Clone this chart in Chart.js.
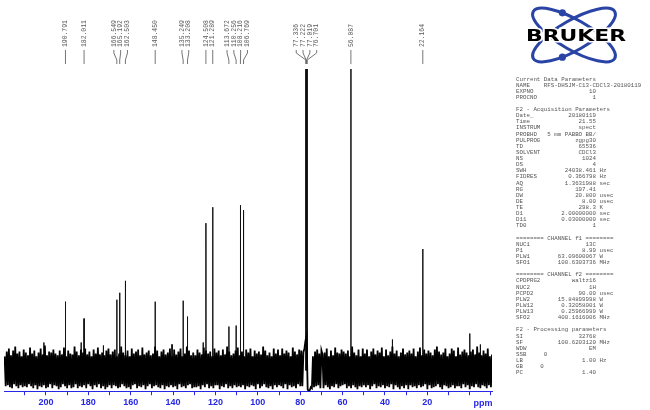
<!DOCTYPE html>
<html>
<head>
<meta charset="utf-8">
<title>13C NMR</title>
<script src="https://cdn.jsdelivr.net/npm/chart.js"></script>
<style>
  html, body { margin: 0; padding: 0; background: #fff; }
  #wrap { width: 650px; height: 410px; position: relative; }
</style>
</head>
<body>
<div id="wrap"><canvas id="nmr_chart" width="650" height="410"></canvas></div>
<script>
// labelled peaks (ppm) and their heights (baseline = 0)
const peakPpm = [190.791, 182.011, 166.549, 165.192, 162.503, 148.450, 135.249, 133.208,
                 124.508, 121.289, 113.672, 110.256, 108.216, 106.769,
                 77.336, 77.222, 77.019, 76.701, 56.087, 22.164];
const peakHeight = [69, 52, 71, 78, 90, 69, 70, 54,
                    148, 164, 44, 45, 166, 161,
                    400, 400, 400, 400, 308, 122];

// small unlabelled spikes
const minorPpm = [201.0, 183.4, 172.9, 140.5, 125.8, 36.5, 0.0, -5.0];
const minorHeight = [28, 28, 25, 26, 28, 31, 37, 26];

// baseline noise, one value every 0.5 ppm from 219.5 ppm down
const noiseStartPpm = 219.5;
const noiseStepPpm = 0.5;
const noise = [
  14,-16,19,-15,22,-17,15,-18,20,-14,24,-16,17,-18,19,-15,14,-17,21,-16,
  18,-17,15,-14,23,-16,17,-18,20,-15,14,-19,18,-16,22,-17,16,-15,25,-18,
  15,-17,19,-14,18,-18,21,-15,17,-16,15,-19,20,-17,16,-14,23,-16,14,-18,
  20,-15,17,-18,16,-17,24,-14,19,-18,15,-16,21,-17,18,-15,22,-18,16,-14,
  19,-16,14,-19,21,-15,17,-17,23,-14,16,-18,18,-16,15,-19,20,-17,22,-15,
  16,-18,19,-15,21,-16,14,-18,17,-17,24,-14,18,-16,15,-18,20,-17,14,-19,
  22,-15,17,-14,19,-18,21,-16,15,-17,23,-15,16,-19,18,-16,20,-14,15,-18,
  17,-16,24,-15,20,-17,14,-18,19,-15,21,-19,16,-16,18,-17,22,-15,14,-17,
  21,-16,16,-19,19,-14,22,-17,14,-16,17,-18,24,-15,20,-14,15,-18,18,-17,
  15,-17,21,-16,18,-19,16,-15,23,-17,20,-14,17,-18,19,-16,14,-18,22,-15,
  18,-15,20,-19,15,-16,21,-17,16,-14,24,-18,19,-16,15,-18,17,-15,20,-17,
  23,-16,15,-17,19,-15,14,-19,21,-16,18,-17,22,-15,14,-16,20,-19,17,-14,
  19,-18,16,-16,24,-14,20,-17,15,-18,18,-16,14,-19,22,-15,17,-17,21,-15,
  15,-16,22,-18,17,-14,20,-19,18,-15,14,-17,23,-16,19,-18,16,-14,21,-16,
  20,-16,18,22,30,34,-19,-21,-20,-17,-18,14,-17,19,-16,21,-15,17,-18,20,
  16,-18,18,-15,22,-17,14,-19,20,-16,15,-17,23,-14,18,-18,17,-16,21,-15,
  19,-14,17,-18,20,-16,14,-18,24,-15,18,-17,15,-19,21,-16,14,-17,22,-15,
  17,-17,21,-15,14,-19,19,-16,22,-14,16,-18,20,-16,18,-17,23,-15,14,-18,
  21,-16,15,-17,19,-14,24,-19,17,-15,20,-17,14,-19,18,-16,22,-18,16,-15,
  18,-19,20,-15,17,-17,22,-16,14,-18,19,-15,23,-17,15,-16,21,-14,17,-19,
  20,-15,18,-18,15,-17,21,-16,24,-14,19,-17,16,-19,18,-15,22,-16,14,-18,
  17,-17,22,-15,20,-18,14,-16,23,-16,16,-18,19,-14,21,-17,18,-15,15,-19,
  19,-16,21,-17,16,-14,24,-17,18,-18,15,-15,20,-16,17,-18,22,-15,14,-17,
  16
];

// x axis
const axisMinPpm = -10.5;
const axisMaxPpm = 219.8;
const tickPpm = [210, 200, 190, 180, 170, 160, 150, 140, 130, 120, 110, 100,
                 90, 80, 70, 60, 50, 40, 30, 20, 10, 0, -10];
const labelledTicks = [200, 180, 160, 140, 120, 100, 80, 60, 40, 20];

// parameter listing: [label, value, unit]
const paramBlocks = [
  ['Current Data Parameters',
   ['NAME', '    RFS-DHSJM-C13-CDCl3-20180119', '', 'left'],
   ['EXPNO', '10'], ['PROCNO', '1']],
  ['F2 - Acquisition Parameters',
   ['Date_', '20180119'], ['Time', '21.55'], ['INSTRUM', 'spect'],
   ['PROBHD', '5 mm PABBO BB/'], ['PULPROG', 'zgpg30'], ['TD', '65536'],
   ['SOLVENT', 'CDCl3'], ['NS', '1024'], ['DS', '4'],
   ['SWH', '24038.461', 'Hz'], ['FIDRES', '0.366798', 'Hz'], ['AQ', '1.3631988', 'sec'],
   ['RG', '197.41'], ['DW', '20.800', 'usec'], ['DE', '8.00', 'usec'],
   ['TE', '298.3', 'K'], ['D1', '2.00000000', 'sec'], ['D11', '0.03000000', 'sec'],
   ['TD0', '1']],
  ['======== CHANNEL f1 ========',
   ['NUC1', '13C'], ['P1', '8.99', 'usec'], ['PLW1', '63.09600067', 'W'],
   ['SFO1', '100.6303736', 'MHz']],
  ['======== CHANNEL f2 ========',
   ['CPDPRG2', 'waltz16'], ['NUC2', '1H'], ['PCPD2', '90.00', 'usec'],
   ['PLW2', '15.84899998', 'W'], ['PLW12', '0.32058001', 'W'], ['PLW13', '0.25966999', 'W'],
   ['SFO2', '400.1616006', 'MHz']],
  ['F2 - Processing parameters',
   ['SI', '32768'], ['SF', '100.6203120', 'MHz'], ['WDW', 'EM'],
   ['SSB', '     0', '', 'left'], ['LB', '1.00', 'Hz'], ['GB', '     0', '', 'left'],
   ['PC', '1.40']]
];

const axisBlue = '#2727e6';
const textGrey = '#555555';

// noise trace
let noiseTrace = noise.map((v, i) => ({x: noiseStartPpm - i * noiseStepPpm, y: v}));

// peak trace: one thin spike per peak, separated by gaps
let peakTrace = [];
const addPeak = (p, h) => {
  peakTrace.push({x: p + 0.04, y: 0}, {x: p, y: h}, {x: p - 0.04, y: 0}, {x: p - 0.05, y: null});
};
peakPpm.forEach((p, i) => addPeak(p, peakHeight[i]));
minorPpm.forEach((p, i) => addPeak(p, minorHeight[i]));

function paramLines() {
  let lines = [];
  paramBlocks.forEach((blk, bi) => {
    if (bi > 0) lines.push('');
    lines.push(blk[0]);
    for (let k = 1; k < blk.length; k++) {
      const [lab, val, unit, mode] = blk[k];
      let s;
      if (mode === 'left') s = lab + val;
      else s = lab + val.padStart(23 - lab.length);
      if (unit) s += ' ' + unit;
      lines.push(s);
    }
  });
  return lines;
}

function drawPeakLabels(ctx, xs) {
  const gap = 6.8;
  const items = peakPpm.map(p => ({text: p.toFixed(3), px: xs.getPixelForValue(p)}))
                       .sort((a, b) => a.px - b.px);
  const place = g => {
    const c = g.members.reduce((s, m) => s + m.px, 0) / g.members.length;
    g.left = c - (g.members.length - 1) * gap / 2;
    g.right = g.left + (g.members.length - 1) * gap;
  };
  let groups = [];
  items.forEach(it => {
    groups.push({members: [it]});
    place(groups[groups.length - 1]);
    while (groups.length > 1) {
      const g = groups[groups.length - 1], prev = groups[groups.length - 2];
      if (g.left - prev.right < gap) {
        prev.members = prev.members.concat(g.members);
        groups.pop();
        place(prev);
      } else break;
    }
  });

  ctx.save();
  ctx.strokeStyle = '#666';
  ctx.lineWidth = 0.9;
  ctx.fillStyle = '#5a5a5a';
  ctx.font = '6.4px "Liberation Mono", monospace';
  ctx.textAlign = 'left';
  ctx.textBaseline = 'middle';
  groups.forEach(g => {
    g.members.forEach((m, i) => {
      const lx = g.left + i * gap;
      ctx.beginPath();
      ctx.moveTo(lx, 50);
      ctx.lineTo(lx, 53);
      ctx.lineTo(m.px, 60);
      ctx.lineTo(m.px, 64);
      ctx.stroke();
      ctx.save();
      ctx.translate(lx, 47);
      ctx.rotate(-Math.PI / 2);
      ctx.fillText(m.text, 0, 0);
      ctx.restore();
    });
  });
  ctx.restore();
}

function drawLogo(ctx) {
  const cx = 574, cy = 35, a = 47, b = 15, rot = Math.PI / 6;
  ctx.save();
  ctx.strokeStyle = '#2a44a6';
  ctx.fillStyle = '#2a44a6';
  ctx.lineWidth = 3;
  [rot, -rot].forEach((r, k) => {
    ctx.beginPath();
    ctx.ellipse(cx, cy, a, b, r, 0, Math.PI * 2);
    ctx.stroke();
    // electron dot on each orbit
    const c = -0.45, s = k === 0 ? -0.893 : 0.893;
    const dx = a * c * Math.cos(r) - b * s * Math.sin(r);
    const dy = a * c * Math.sin(r) + b * s * Math.cos(r);
    ctx.beginPath();
    ctx.arc(cx + dx, cy + dy, 3.6, 0, Math.PI * 2);
    ctx.fill();
  });
  ctx.font = 'bold 16px "DejaVu Sans", sans-serif';
  ctx.textAlign = 'center';
  ctx.textBaseline = 'middle';
  const w = ctx.measureText('BRUKER').width;
  ctx.translate(576, 37);
  ctx.scale(100 / w, 1);
  ctx.strokeStyle = '#fff';
  ctx.lineWidth = 3;
  ctx.strokeText('BRUKER', 0, 0);
  ctx.fillStyle = '#000';
  ctx.fillText('BRUKER', 0, 0);
  ctx.restore();
}

function drawParams(ctx) {
  ctx.save();
  ctx.fillStyle = textGrey;
  ctx.font = '5.8px "Liberation Mono", monospace';
  ctx.textAlign = 'left';
  ctx.textBaseline = 'middle';
  paramLines().forEach((ln, i) => {
    if (ln) ctx.fillText(ln, 516, 79 + i * 6.12);
  });
  ctx.restore();
}

const decorations = {
  id: 'decorations',
  afterDraw(chart) {
    const ctx = chart.ctx;
    const xs = chart.scales.x;
    drawPeakLabels(ctx, xs);
    ctx.save();
    ctx.fillStyle = axisBlue;
    ctx.font = 'bold 9px "Liberation Sans", Arial, sans-serif';
    ctx.textAlign = 'center';
    ctx.textBaseline = 'middle';
    ctx.fillText('ppm', 483, 404);
    ctx.restore();
    drawParams(ctx);
    drawLogo(ctx);
  }
};

const ctx1 = document.getElementById('nmr_chart').getContext('2d');
const chart1 = new Chart(ctx1, {
  type: 'line',
  data: {
    datasets: [{
      label: 'noise',
      data: noiseTrace,
      borderColor: '#000',
      borderWidth: 1.8,
      pointRadius: 0,
      fill: false,
      tension: 0
    }, {
      label: 'peaks',
      data: peakTrace,
      borderColor: '#111',
      borderWidth: 1,
      pointRadius: 0,
      fill: false,
      spanGaps: false,
      tension: 0
    }]
  },
  options: {
    responsive: false,
    animation: false,
    devicePixelRatio: 1,
    events: [],
    layout: { padding: { left: 4, right: 158, top: 69, bottom: 0 } },
    plugins: { legend: { display: false }, tooltip: { enabled: false } },
    scales: {
      x: {
        type: 'linear',
        reverse: true,
        min: axisMinPpm,
        max: axisMaxPpm,
        afterBuildTicks: scale => { scale.ticks = tickPpm.map(v => ({value: v})); },
        ticks: {
          autoSkip: false,
          maxRotation: 0,
          padding: 2,
          color: axisBlue,
          font: { family: '"Liberation Sans", Arial, sans-serif', size: 9, weight: 'bold' },
          callback: v => labelledTicks.includes(v) ? String(v) : ''
        },
        grid: { drawOnChartArea: false, drawTicks: true, tickLength: 4, color: axisBlue },
        border: { display: true, color: axisBlue, width: 1 }
      },
      y: {
        display: false,
        min: -21,
        max: 303
      }
    }
  },
  plugins: [decorations]
});
</script>
</body>
</html>
